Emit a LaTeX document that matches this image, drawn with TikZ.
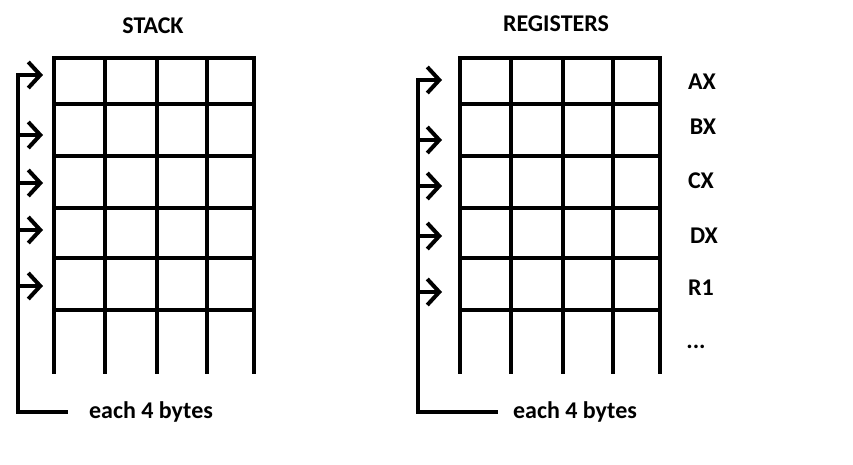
\documentclass[tikz,border=0pt]{standalone}
\usepackage{fontspec}
\setmainfont{Carlito}
\usetikzlibrary{arrows.meta,positioning}
\tikzstyle{wall} = [line width=4pt,line cap=rect]
\tikzstyle{pointer} = [line width=4pt,-{Straight Barb[length=12pt,width=26pt]}]
\tikzstyle{heading} = [anchor=base,inner sep=0,font=\bfseries\fontsize{24}{29}\selectfont]
\tikzstyle{note} = [inner sep=0,font=\bfseries\fontsize{24}{29}\selectfont]
\def \gw {200}
\def \gb {372}

\begin{document}
\begin{tikzpicture}[x=1pt,y=-1pt]
  \useasboundingbox (0,0) rectangle (853,465);
  % the two grids
  \foreach \gx in {54,460}{
    \begin{scope}[xshift=\gx pt]
      \foreach \r in {58,104,156,208,258,310}
        \draw[wall] (0,\r) -- (\gw,\r);
      \foreach \c in {0,51,103,153,\gw}
        \draw[wall] (\c,58) -- (\c,\gb);
    \end{scope}
  }
  % titles
  \node[heading] (stack) at (153,34) {STACK};
  \node[heading] (regs) at (556,32) {REGISTERS};
  % register names
  \node[heading] (ax) at (702,90) {AX};
  \node[heading] (bx) at (703,135) {BX};
  \node[heading] (cx) at (701,189) {CX};
  \node[heading] (dx) at (704,243) {DX};
  \node[heading] (r1) at (701,295) {R1};
  \node[heading] (more) at (696,348) {...};
  % notes
  \node[note] (stack-note) at (151,412) {each 4 bytes};
  \node[note] (regs-note) at (575,412) {each 4 bytes};
  % brackets and pointers
  \coordinate (stack-top) at (18,75);
  \coordinate (regs-top) at (418,80);
  \draw[wall] (stack-top) |- ([xshift=-23pt]stack-note.west);
  \draw[wall] (regs-top) |- ([xshift=-17pt]regs-note.west);
  \foreach \y [count=\i] in {75,135,183,230,286}{
    \coordinate (stack-from-\i) at (18,\y);
    \coordinate (stack-to-\i) at (43,\y);
    \draw[pointer] (stack-from-\i) -- (stack-to-\i);
  }
  \foreach \y [count=\i] in {80,140,186,236,292}{
    \coordinate (regs-from-\i) at (418,\y);
    \coordinate (regs-to-\i) at (442,\y);
    \draw[pointer] (regs-from-\i) -- (regs-to-\i);
  }
\end{tikzpicture}
\end{document}
